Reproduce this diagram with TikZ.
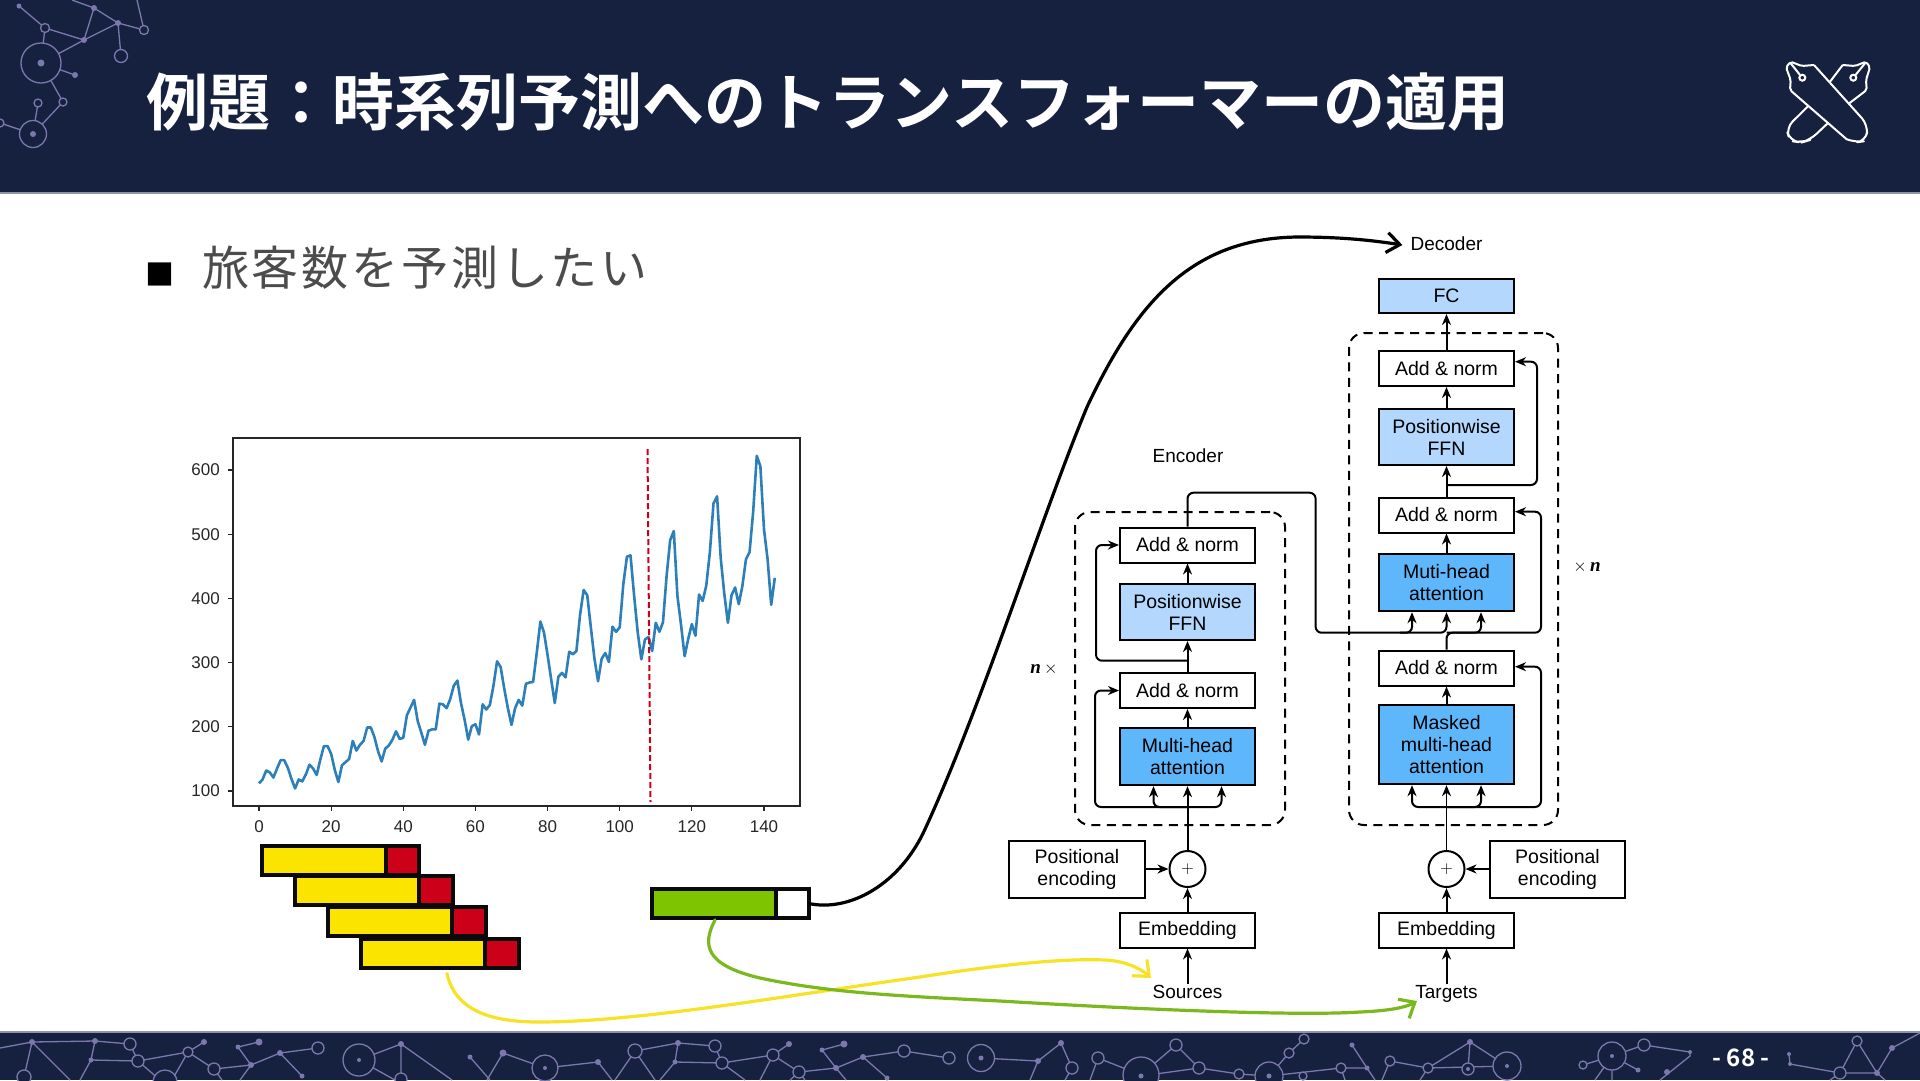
\documentclass[tikz,border=0pt]{standalone}
\usepackage{fontspec}
\setmainfont{Liberation Sans}
\newfontfamily\jpfont[BoldFont={Noto Sans CJK JP Bold}]{Noto Sans CJK JP}
\newfontfamily\factorfont{Liberation Serif}
\usetikzlibrary{arrows.meta}
\definecolor{navy}{HTML}{15213F}
\definecolor{navyedge}{HTML}{8C94A8}
\definecolor{netcol}{HTML}{7B78AD}
\definecolor{attblue}{HTML}{5EB6FB}
\definecolor{ffnblue}{HTML}{B3D7FD}
\definecolor{barblack}{HTML}{0A0A0A}
\definecolor{baryellow}{HTML}{FBE500}
\definecolor{barred}{HTML}{CC0018}
\definecolor{bargreen}{HTML}{7FC400}
\definecolor{curveyellow}{HTML}{F7E225}
\definecolor{curvegreen}{HTML}{7AB81E}
\definecolor{lineblue}{HTML}{2C7FB8}
\tikzset{
  netline/.style={draw=netcol, line width=1.3pt},
  netring/.style={draw=netcol, fill=navy, line width=1.3pt},
  logoline/.style={draw=white, line width=2pt, line join=round, rounded corners=2pt},
  blockbox/.style={draw=black, line width=2pt, fill=white, inner sep=0pt, minimum width=135pt, minimum height=35pt, align=center, font=\fontsize{19.5}{22}\selectfont},
  attbox/.style={blockbox, fill=attblue, line width=2.4pt},
  ffnbox/.style={blockbox, fill=ffnblue},
  dashframe/.style={draw=black, line width=2pt, dash pattern=on 9pt off 6.5pt, rounded corners=15pt, inner sep=0pt},
  caption/.style={inner sep=0pt, text height=14pt, text depth=4pt, font=\fontsize{19}{22}\selectfont},
  factor/.style={inner sep=0pt, font=\factorfont\bfseries\itshape\fontsize{19}{22}\selectfont},
  link/.style={draw=black, line width=2pt, rounded corners=6pt, -{Stealth[length=11pt,width=9pt,inset=3.5pt]}},
  tick/.style={draw=black!85, line width=1.2pt},
  ticklabel/.style={inner sep=0pt, text=black!85, font=\fontsize{17}{20}\selectfont},
  winbar/.style={draw=barblack, line width=4pt, inner sep=0pt, outer sep=0pt, minimum height=29pt},
  longcurve/.style={line width=3.2pt, line cap=round}
}
\begin{document}
\begin{tikzpicture}[x=1pt, y=-1pt]
  \useasboundingbox (0,0) rectangle (1920,1080);
  % header and footer
  \fill[navy] (0,0) rectangle (1920,193);
  \fill[navy] (0,1032) rectangle (1920,1080);
  \draw[navyedge, line width=1.5pt] (0,193) -- (1920,193);
  \draw[navyedge, line width=1.5pt] (0,1032) -- (1920,1032);
  % network pattern, header
  \draw[netline] (19,6) -- (45,28) -- (84,40) (45,28) -- (41,63) (72,0) -- (94,8) -- (118,23) -- (144,30) (137,0) -- (144,30)
    (94,8) -- (84,40) -- (118,23) -- (121,56) (84,40) -- (41,63) -- (75,75) (41,63) -- (63,102) -- (33,134) (38,103) -- (33,134) -- (0,123);
  \foreach \x/\y/\r in {45/28/4.5,144/30/4.5,121/56/6.5,41/63/20,63/102/4,38/103/4,33/134/13.5,0/123/4}
    \draw[netring] (\x,\y) circle[radius=\r];
  \foreach \x/\y/\r in {19/6/2.5,94/8/3,118/23/3,84/40/3,75/75/3,41/63/3.5,33/134/3}
    \fill[netcol] (\x,\y) circle[radius=\r];
  % network pattern, footer
  \draw[netline] (0,1048) -- (32,1042) -- (95,1041) -- (130,1044) -- (138,1061) (32,1042) -- (24,1077) (32,1042) -- (70,1080) (95,1041) -- (91,1060) -- (138,1061) (91,1060) -- (80,1080)
    (138,1061) -- (188,1052) -- (204,1042) (138,1061) -- (160,1080) (188,1052) -- (214,1069) -- (251,1065) -- (238,1047) -- (259,1042) (188,1052) -- (172,1080) (214,1069) -- (222,1080)
    (251,1065) -- (280,1053) -- (318,1048) (280,1053) -- (302,1076) (251,1065) -- (240,1080)
    (359,1060) -- (401,1044) -- (452,1080) (401,1044) -- (401,1079) (359,1060) -- (395,1080)
    (470,1057) -- (490,1080) (503,1053) -- (487,1080) (503,1053) -- (545,1068) -- (598,1062) -- (612,1080)
    (635,1051) -- (678,1043) -- (715,1046) -- (722,1063) (678,1043) -- (675,1062) -- (722,1063) -- (773,1055) -- (789,1044) (773,1055) -- (799,1072) -- (836,1068) -- (822,1050) -- (844,1044)
    (836,1068) -- (863,1057) -- (904,1051) -- (949,1058) (863,1057) -- (887,1078) (635,1051) -- (615,1080) (635,1051) -- (655,1080) (675,1062) -- (660,1080) (722,1063) -- (745,1080) (773,1055) -- (760,1080) (799,1072) -- (790,1080) (799,1072) -- (805,1080) (836,1068) -- (846,1080)
    (981,1058) -- (1038,1061) -- (1061,1043) -- (1072,1068) -- (1065,1080) (1038,1061) -- (1030,1080) (1098,1058) -- (1090,1080) (1098,1058) -- (1141,1075) -- (1176,1045) -- (1199,1068) -- (1141,1076) (1199,1068) -- (1239,1074) -- (1269,1076) -- (1289,1053) -- (1304,1039)
    (1269,1076) -- (1341,1068) -- (1367,1068) -- (1352,1045) (1367,1068) -- (1375,1080) (1341,1068) -- (1345,1080) (1390,1061) -- (1382,1080) (1390,1061) -- (1428,1068) -- (1470,1042) -- (1468,1069) (1470,1042) -- (1507,1066) -- (1428,1068) (1428,1068) -- (1420,1080)
    (1583,1065) -- (1612,1056) -- (1644,1045) -- (1690,1052) -- (1690,1056) -- (1660,1080) (1612,1056) -- (1638,1070) (1612,1056) -- (1612,1080) (1612,1056) -- (1595,1080)
    (1920,1033) -- (1892,1048) -- (1877,1073) -- (1857,1041) -- (1840,1073) -- (1877,1073) -- (1885,1080) (1790,1064) -- (1840,1073) (1840,1073) -- (1830,1080) (1789,1054) -- (1790,1064);
  \foreach \x/\y/\r in {130/1044/6,138/1061/6,188/1052/5,214/1069/6,318/1048/6,24/1077/7,165/1082/12,359/1060/16,401/1079/6,545/1068/13,635/1051/7,715/1046/6,722/1063/6,773/1055/6,799/1072/6,904/1051/6,949/1058/6,981/1058/13.5,1072/1068/6,1098/1058/6,1141/1075/18,1176/1045/6,1199/1068/6,1239/1074/5,1269/1076/14,1289/1053/5,1304/1039/5,1303/1076/4,1341/1068/5,1390/1061/5,1428/1068/5,1468/1069/6,1507/1066/14,1612/1056/14,1583/1065/4,1644/1045/6,1857/1041/5,1840/1073/6}
    \draw[netring] (\x,\y) circle[radius=\r];
  \foreach \x/\y/\r in {32/1042/3,95/1041/3,91/1060/2.5,204/1042/3,251/1065/3,238/1047/2.5,259/1042/3.5,280/1053/3,302/1076/2.5,359/1060/2,401/1044/3,470/1057/2.5,503/1053/3.5,545/1068/2,598/1062/3,678/1043/3,675/1062/2.5,789/1044/3,836/1068/3,822/1050/2.5,844/1044/3.5,863/1057/3,887/1078/2.5,981/1058/2.5,1038/1061/3,1061/1043/3,1141/1076/2.5,1269/1076/2.5,1352/1045/2.5,1367/1068/2.5,1470/1042/3,1468/1069/2,1507/1066/2,1612/1056/2,1667/1072/3,1638/1070/2.5,1690/1052/2,1892/1048/3,1877/1073/3,1790/1064/2,1789/1054/2}
    \fill[netcol] (\x,\y) circle[radius=\r];
  % title, page number, logo
  \node[anchor=west, inner sep=0pt, text=white, font=\jpfont\bfseries\fontsize{62}{70}\selectfont] (title) at (146,102) {例題：時系列予測へのトランスフォーマーの適用};
  \node[inner sep=0pt, text=white, font=\jpfont\bfseries\fontsize{24}{28}\selectfont] (pagenum) at (1741,1058) {- 68 -};
  \draw[logoline] (1842.7,65) -- (1855,66) -- (1866,61.7) -- (1870,67.3) -- (1866,80) -- (1866.7,90) -- (1848.3,104)
    (1830,81.7) -- (1842.7,65);
  \draw[logoline, rounded corners=9pt] (1808.3,106) -- (1786,128) -- (1790,141) -- (1801.7,142.5) -- (1810,140) -- (1828.3,122.7);
  \draw[logoline] (1814,65) -- (1801.7,66) -- (1790.7,61.7) -- (1786,67.3) -- (1790.7,80) -- (1790,90) -- (1846.7,139.3);
  \draw[logoline, rounded corners=9pt] (1814,65) -- (1868,125) -- (1866,141) -- (1855,142.5) -- (1846.7,139.3);
  \draw[white, line width=2pt] (1790.7,63.3) -- (1800,75) (1865,63.3) -- (1855.5,75);
  \draw[white, line width=2pt] (1802.3,77.7) circle[radius=3] (1853.3,77.7) circle[radius=3];
  % heading
  \node[inner sep=0pt, text=black, font=\jpfont\fontsize{29}{32}\selectfont] (bullet) at (160,274) {■};
  \node[anchor=west, inner sep=0pt, text=black!70, font=\jpfont\fontsize{47}{52}\selectfont\addfontfeature{LetterSpace=6}] (heading) at (202,268) {旅客数を予測したい};
  % chart
  \draw[black!85, line width=1.5pt] (233,438) rectangle (800,806);
  \foreach \v in {100,200,...,600} {
    \draw[tick] (233,{791-(\v-100)*0.642}) -- (228,{791-(\v-100)*0.642});
    \node[ticklabel, anchor=east] (ylab\v) at (220,{791-(\v-100)*0.642}) {\v};
  }
  \foreach \v in {0,20,...,140} {
    \draw[tick] ({259+\v*3.607},806) -- ({259+\v*3.607},811);
    \node[ticklabel] (xlab\v) at ({259+\v*3.607},827) {\v};
  }
  \draw[lineblue, line width=2.6pt, line join=round] (259,{791-(112-100)*0.642})
    \foreach \v [count=\i] in {118,132,129,121,135,148,148,136,119,104,118,
      115,126,141,135,125,149,170,170,158,133,114,140,
      145,150,178,163,172,178,199,199,184,162,146,166,
      171,180,193,181,183,218,230,242,209,191,172,194,
      196,196,236,235,229,243,264,272,237,211,180,201,
      204,188,235,227,234,264,302,293,259,229,203,229,
      242,233,267,269,270,315,364,347,312,274,237,278,
      284,277,317,313,318,374,413,405,355,306,271,306,
      315,301,356,348,355,422,465,467,404,347,305,336,
      340,318,362,348,363,435,491,505,404,359,310,337,
      360,342,406,396,420,472,548,559,463,407,362,405,
      417,391,419,461,472,535,622,606,508,461,390,432} { -- ({259+\i*3.607},{791-(\v-100)*0.642}) };
  \draw[barred, line width=2pt, dash pattern=on 6pt off 3pt] (647.5,449) -- (650.5,802);
  % sliding windows
  \foreach \i/\x/\y in {1/261.5/860.5,2/295/890.5,3/328/921.5,4/361/953} {
    \node[winbar, fill=baryellow, anchor=west, minimum width=124pt] (win\i) at (\x,\y) {};
    \node[winbar, fill=barred, anchor=west, minimum width=33.5pt] (tgt\i) at (win\i.east) {};
  }
  \node[winbar, fill=bargreen, anchor=west, minimum width=124pt] (input) at (652,903.5) {};
  \node[winbar, fill=white, anchor=west, minimum width=33pt] (output) at (input.east) {};
  % encoder
  \node[caption] (enclabel) at (1188,457) {Encoder};
  \node[dashframe, minimum width=210pt, minimum height=313pt] (encframe) at (1180,668.5) {};
  \node[factor] (encfactor) at (1044,669) {n\,$\times$};
  \node[blockbox] (eadd2) at (1187.5,545) {Add \& norm};
  \node[ffnbox, minimum height=56pt] (effn) at (1187.5,612) {Positionwise\\FFN};
  \node[blockbox] (eadd1) at (1187.5,690.5) {Add \& norm};
  \node[attbox, minimum height=57pt] (emh) at (1187.5,756.5) {Multi-head\\attention};
  \node[draw=black, line width=2pt, circle, fill=white, inner sep=0pt, minimum size=36pt] (eplus) at (1187.5,869) {\fontsize{19}{22}\selectfont$+$};
  \node[blockbox, minimum width=136pt, minimum height=57pt] (epos) at (1077,869) {Positional\\encoding};
  \node[blockbox, text height=14pt, text depth=4pt] (eemb) at (1187.5,930) {Embedding};
  \node[caption] (sources) at (1187.5,993) {Sources};
  % decoder
  \node[caption] (declabel) at (1446.5,245) {Decoder};
  \node[ffnbox, minimum height=34pt] (fc) at (1446.5,296) {FC};
  \node[dashframe, minimum width=209pt, minimum height=492pt] (decframe) at (1453.5,579) {};
  \node[factor] (decfactor) at (1587,567) {$\times$\,n};
  \node[blockbox] (dadd1) at (1446.5,368.5) {Add \& norm};
  \node[ffnbox, minimum height=56pt] (dffn) at (1446.5,437) {Positionwise\\FFN};
  \node[blockbox] (dadd2) at (1446.5,515) {Add \& norm};
  \node[attbox, minimum height=57pt] (dmh) at (1446.5,582.5) {Muti-head\\attention};
  \node[blockbox] (dadd3) at (1446.5,668) {Add \& norm};
  \node[attbox, minimum height=79pt] (dmask) at (1446.5,744.5) {Masked\\multi-head\\attention};
  \node[draw=black, line width=2pt, circle, fill=white, inner sep=0pt, minimum size=36pt] (dplus) at (1446.5,869) {\fontsize{19}{22}\selectfont$+$};
  \node[blockbox, minimum width=135pt, minimum height=57pt] (dpos) at (1557.5,869) {Positional\\encoding};
  \node[blockbox, text height=14pt, text depth=4pt] (demb) at (1446.5,930) {Embedding};
  \node[caption] (targets) at (1446.5,993) {Targets};
  % branch points
  \coordinate (esplit) at (1187.5,807);
  \coordinate (eskip) at (1187.5,660.7);
  \coordinate (dsplit) at (1446.5,807);
  \coordinate (dskip) at (1446.5,485);
  \coordinate (djoin) at (1446.5,632.7);
  % encoder links
  \draw[link] (eemb.north) -- (eplus.south);
  \draw[link] (sources.north) -- (eemb.south);
  \draw[link] (epos.east) -- (eplus.west);
  \draw[link] (eplus.north) -- (emh.south);
  \draw[link] (esplit) -- ([xshift=-34pt]esplit) -- ([xshift=-34pt]emh.south);
  \draw[link] (esplit) -- ([xshift=34pt]esplit) -- ([xshift=34pt]emh.south);
  \draw[link] (esplit) -- (1095,807) -- (1095,690.5) -- (eadd1.west);
  \draw[link] (emh.north) -- (eadd1.south);
  \draw[link] (eadd1.north) -- (effn.south);
  \draw[link] (eskip) -- (1096,660.7) -- (1096,545) -- (eadd2.west);
  \draw[link] (effn.north) -- (eadd2.south);
  \draw[link] (eadd2.north) -- (1187.5,492.7) -- (1315.6,492.7) -- (1315.6,632.7) -- (1446.5,632.7) -- (dmh.south);
  \draw[link] (1400,632.7) -- (1412,632.7) -- ([xshift=-34.5pt]dmh.south);
  % decoder links
  \draw[link] (demb.north) -- (dplus.south);
  \draw[link] (targets.north) -- (demb.south);
  \draw[link] (dpos.west) -- (dplus.east);
  \draw[link, line width=1.4pt] (dplus.north) -- (dmask.south);
  \draw[link] (dsplit) -- ([xshift=-34.5pt]dsplit) -- ([xshift=-34.5pt]dmask.south);
  \draw[link] (dsplit) -- ([xshift=34.5pt]dsplit) -- ([xshift=34.5pt]dmask.south);
  \draw[link] (dsplit) -- (1541,807) -- (1541,666.7) -- ([yshift=1.3pt]dadd3.east);
  \draw[link] (dmask.north) -- (dadd3.south);
  \draw[link] (dadd3.north) -- (djoin) -- (1481,632.7) -- ([xshift=34.5pt]dmh.south);
  \draw[link] (djoin) -- (1541,632.7) -- (1541,511.7) -- ([yshift=3.3pt]dadd2.east);
  \draw[link] (dmh.north) -- (dadd2.south);
  \draw[link] (dadd2.north) -- (dffn.south);
  \draw[link] (dskip) -- (1537,485) -- (1537,361.7) -- ([yshift=6.8pt]dadd1.east);
  \draw[link] (dffn.north) -- (dadd1.south);
  \draw[link] (dadd1.north) -- (fc.south);
  % long curves from the windows
  \coordinate (srctip) at (1151,978);
  \coordinate (tgttip) at (1417,1001);
  \draw[longcurve, draw=curveyellow, -{Straight Barb[length=13pt,width=22pt]}] ([xshift=24pt,yshift=-6pt]win4.south) .. controls (455,1010) and (490,1022) .. (539,1022) .. controls (640,1022) and (790,995) .. (920,977) .. controls (990,966) and (1060,958) .. (1105,960) .. controls (1125,961) and (1140,968) .. (srctip);
  \draw[longcurve, draw=curvegreen, -{Straight Barb[length=13pt,width=22pt]}] ([xshift=1pt,yshift=-2pt]input.south) .. controls (702,945) and (705,965) .. (760,978) .. controls (830,993) and (900,996) .. (1000,1001) .. controls (1150,1010) and (1300,1016) .. (1360,1012) .. controls (1385,1011) and (1405,1008) .. (tgttip);
  \draw[longcurve, draw=black, -{Straight Barb[length=13pt,width=20pt]}] (output.east) .. controls (848,912) and (900,886) .. (926,827) .. controls (982,705) and (1042,515) .. (1087,407) .. controls (1135,305) and (1190,238) .. (1298,237) .. controls (1340,237) and (1370,240) .. ([xshift=-8pt]declabel.west);
\end{tikzpicture}
\end{document}
